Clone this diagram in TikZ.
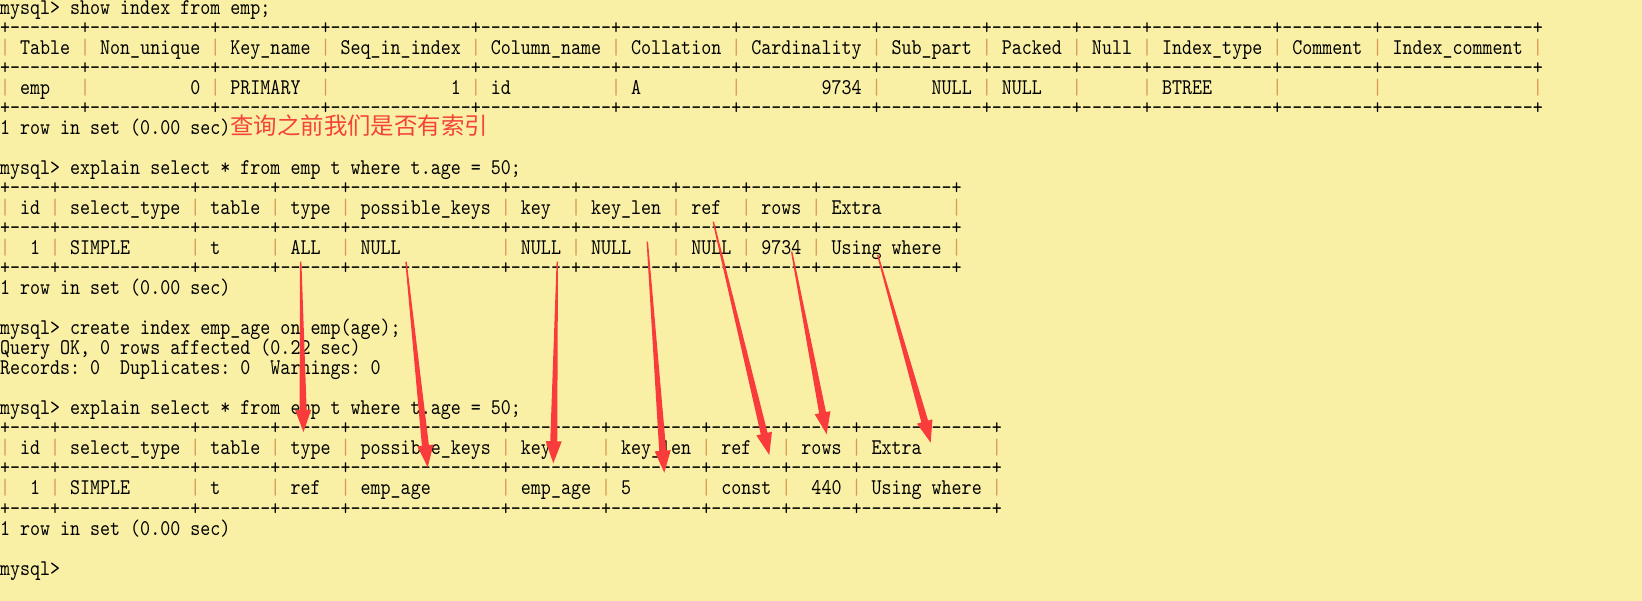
\documentclass[tikz,border=0pt]{standalone}
\usepackage{fontspec}
\usepackage{xcolor}
\usepackage{tikz}
\usetikzlibrary{calc}
\newfontfamily\termfont{lmmono10-regular.otf}[FakeStretch=0.85, WordSpace={1,0,0}]
\newfontfamily\cjk{Noto Sans CJK SC}
\definecolor{screen}{HTML}{F9F0A5}
\definecolor{pipe}{HTML}{D99A55}
\definecolor{arrowred}{HTML}{FA3B3B}
\definecolor{cnred}{HTML}{F4433A}
\newlength\cw
\AtBeginDocument{\settowidth\cw{\termfont\fontsize{22.45}{20}\selectfont 0}}
\newcommand\termsetup{\termfont\fontsize{22.45}{20}\selectfont\setlength\spaceskip{\cw}\setlength\xspaceskip{\cw}}
\newcommand\vb{{\color{pipe}|}}
\newcommand\lcell[2]{\makebox[#1\cw][l]{\hspace{\cw}#2}}
\newcommand\rcell[2]{\makebox[#1\cw][r]{#2\hspace{\cw}}}
\newcommand\brd[1]{\foreach \w in {#1}{+\foreach \k in {1,...,\w}{-}}+}
\newcommand\redarrow[2]{%
  \coordinate (h) at ($(#2)!22pt!(#1)$);
  \fill[arrow] ($(#1)!0.7pt!90:(#2)$) -- ($(h)!3.5pt!-90:(#1)$)
    -- ($(h)!8pt!-90:(#1)$) -- (#2) -- ($(h)!8pt!90:(#1)$)
    -- ($(h)!3.5pt!90:(#1)$) -- ($(#1)!0.7pt!-90:(#2)$) -- cycle;}
\tikzstyle{term} = [text width=1600pt, align=flush left, inner sep=0pt, text height=15pt, text depth=5pt, font=\termsetup]
\tikzstyle{arrow} = [fill=arrowred, draw=none]

\begin{document}
\begin{tikzpicture}[x=1pt, y=-1pt, node distance=20pt]
  \useasboundingbox (0,0) rectangle (1642,601);
  \fill[screen] (0,0) rectangle (1642,601);
  % show index
  \node(q1)[term] at (800,10) {mysql> show index from emp;};
  \node(t1a)[term, below of=q1] {\brd{7,12,10,14,13,11,13,10,8,6,12,9,15}};
  \node(t1h)[term, below of=t1a] {\vb\lcell{7}{Table}\vb\lcell{12}{Non\_unique}\vb\lcell{10}{Key\_name}\vb\lcell{14}{Seq\_in\_index}\vb\lcell{13}{Column\_name}\vb\lcell{11}{Collation}\vb\lcell{13}{Cardinality}\vb\lcell{10}{Sub\_part}\vb\lcell{8}{Packed}\vb\lcell{6}{Null}\vb\lcell{12}{Index\_type}\vb\lcell{9}{Comment}\vb\lcell{15}{Index\_comment}\vb};
  \node(t1b)[term, below of=t1h] {\brd{7,12,10,14,13,11,13,10,8,6,12,9,15}};
  \node(t1d)[term, below of=t1b] {\vb\lcell{7}{emp}\vb\rcell{12}{0}\vb\lcell{10}{PRIMARY}\vb\rcell{14}{1}\vb\lcell{13}{id}\vb\lcell{11}{A}\vb\rcell{13}{9734}\vb\rcell{10}{NULL}\vb\lcell{8}{NULL}\vb\lcell{6}{}\vb\lcell{12}{BTREE}\vb\lcell{9}{}\vb\lcell{15}{}\vb};
  \node(t1c)[term, below of=t1d] {\brd{7,12,10,14,13,11,13,10,8,6,12,9,15}};
  \node(r1)[term, below of=t1c] {1 row in set (0.00 sec){\cjk\color{cnred}\fontsize{23.4}{20}\selectfont 查询之前我们是否有索引}};
  % explain before index
  \node(q2)[term, below of=r1, node distance=40pt] {mysql> explain select * from emp t where t.age = 50;};
  \node(t2a)[term, below of=q2] {\brd{4,13,7,6,15,6,9,6,6,13}};
  \node(t2h)[term, below of=t2a] {\vb\lcell{4}{id}\vb\lcell{13}{select\_type}\vb\lcell{7}{table}\vb\lcell{6}{type}\vb\lcell{15}{possible\_keys}\vb\lcell{6}{key}\vb\lcell{9}{key\_len}\vb\lcell{6}{ref}\vb\lcell{6}{rows}\vb\lcell{13}{Extra}\vb};
  \node(t2b)[term, below of=t2h] {\brd{4,13,7,6,15,6,9,6,6,13}};
  \node(t2d)[term, below of=t2b] {\vb\rcell{4}{1}\vb\lcell{13}{SIMPLE}\vb\lcell{7}{t}\vb\lcell{6}{ALL}\vb\lcell{15}{NULL}\vb\lcell{6}{NULL}\vb\lcell{9}{NULL}\vb\lcell{6}{NULL}\vb\rcell{6}{9734}\vb\lcell{13}{Using where}\vb};
  \node(t2c)[term, below of=t2d] {\brd{4,13,7,6,15,6,9,6,6,13}};
  \node(r2)[term, below of=t2c] {1 row in set (0.00 sec)};
  % create index
  \node(q3)[term, below of=r2, node distance=40pt] {mysql> create index emp\_age on emp(age);};
  \node(ok3)[term, below of=q3] {Query OK, 0 rows affected (0.22 sec)};
  \node(rec3)[term, below of=ok3] {Records: 0\ \ Duplicates: 0\ \ Warnings: 0};
  % explain after index
  \node(q4)[term, below of=rec3, node distance=40pt] {mysql> explain select * from emp t where t.age = 50;};
  \node(t3a)[term, below of=q4] {\brd{4,13,7,6,15,9,9,7,6,13}};
  \node(t3h)[term, below of=t3a] {\vb\lcell{4}{id}\vb\lcell{13}{select\_type}\vb\lcell{7}{table}\vb\lcell{6}{type}\vb\lcell{15}{possible\_keys}\vb\lcell{9}{key}\vb\lcell{9}{key\_len}\vb\lcell{7}{ref}\vb\lcell{6}{rows}\vb\lcell{13}{Extra}\vb};
  \node(t3b)[term, below of=t3h] {\brd{4,13,7,6,15,9,9,7,6,13}};
  \node(t3d)[term, below of=t3b] {\vb\rcell{4}{1}\vb\lcell{13}{SIMPLE}\vb\lcell{7}{t}\vb\lcell{6}{ref}\vb\lcell{15}{emp\_age}\vb\lcell{9}{emp\_age}\vb\lcell{9}{5}\vb\lcell{7}{const}\vb\rcell{6}{440}\vb\lcell{13}{Using where}\vb};
  \node(t3c)[term, below of=t3d] {\brd{4,13,7,6,15,9,9,7,6,13}};
  \node(r3)[term, below of=t3c] {1 row in set (0.00 sec)};
  \node(q5)[term, below of=r3, node distance=40pt] {mysql>};
  % arrows
  \coordinate (s1) at (300.7,261.7); \coordinate (e1) at (303.5,432);
  \coordinate (s2) at (406,261.7);   \coordinate (e2) at (427.7,467.3);
  \coordinate (s3) at (557.3,261.7); \coordinate (e3) at (553.3,463.3);
  \coordinate (s4) at (647.3,241.7); \coordinate (e4) at (664.3,472.7);
  \coordinate (s5) at (713.3,221.7); \coordinate (e5) at (769.3,455);
  \coordinate (s6) at (791.7,251.7); \coordinate (e6) at (826.7,434.3);
  \coordinate (s7) at (877.7,255);   \coordinate (e7) at (930.7,442.7);
  \redarrow{s1}{e1}
  \redarrow{s2}{e2}
  \redarrow{s3}{e3}
  \redarrow{s4}{e4}
  \redarrow{s5}{e5}
  \redarrow{s6}{e6}
  \redarrow{s7}{e7}
\end{tikzpicture}
\end{document}
